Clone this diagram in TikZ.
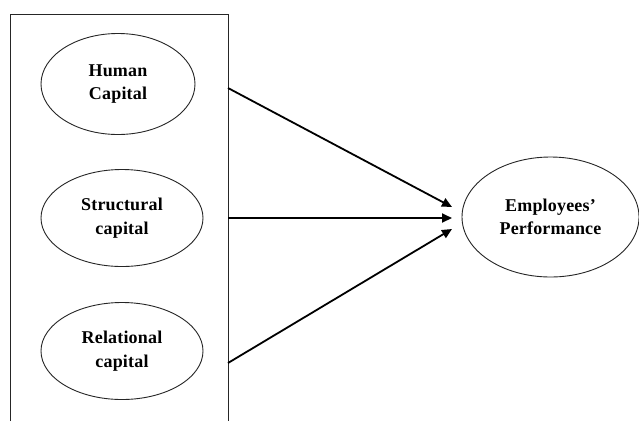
\documentclass[tikz,border=0pt]{standalone}
\usepackage{fontspec}
\newfontfamily\labfont{Liberation Serif}[LetterSpace=1]
\usetikzlibrary{shapes.geometric,arrows.meta}
\tikzset{
  construct/.style={draw=black!85, line width=0.9pt, ellipse, inner sep=0pt,
    align=center, font=\labfont\bfseries\fontsize{18}{23.5}\selectfont, text=black},
  link/.style={line width=1.8pt, -{Triangle[length=10pt,width=9pt]}},
  frame/.style={draw=black!85, line width=1pt}
}
\begin{document}
\begin{tikzpicture}[x=1pt,y=-1pt]
\fill[white] (0,0) rectangle (639,421);
\useasboundingbox (0,0) rectangle (639,421);
\draw[frame] (10,421) -- (10,14) -- (228,14) -- (228,421);
\node[construct, minimum width=154pt, minimum height=101pt] (hc) at (118,84) {Human\\Capital};
\node[construct, minimum width=162pt, minimum height=97pt] (sc) at (122,218) {Structural\\capital};
\node[construct, minimum width=162pt, minimum height=97pt] (rc) at (122,351) {Relational\\capital};
\node[construct, minimum width=177pt, minimum height=120pt] (ep) at (550.5,217) {Employees’\\Performance};
\coordinate (hcout) at (228,88);
\coordinate (scout) at (228,218);
\coordinate (rcout) at (228,363);
\coordinate (epin1) at (452,207);
\coordinate (epin2) at (452,218);
\coordinate (epin3) at (452,229);
\draw[link] (hcout) -- (epin1);
\draw[link] (scout) -- (epin2);
\draw[link] (rcout) -- (epin3);
\end{tikzpicture}
\end{document}
